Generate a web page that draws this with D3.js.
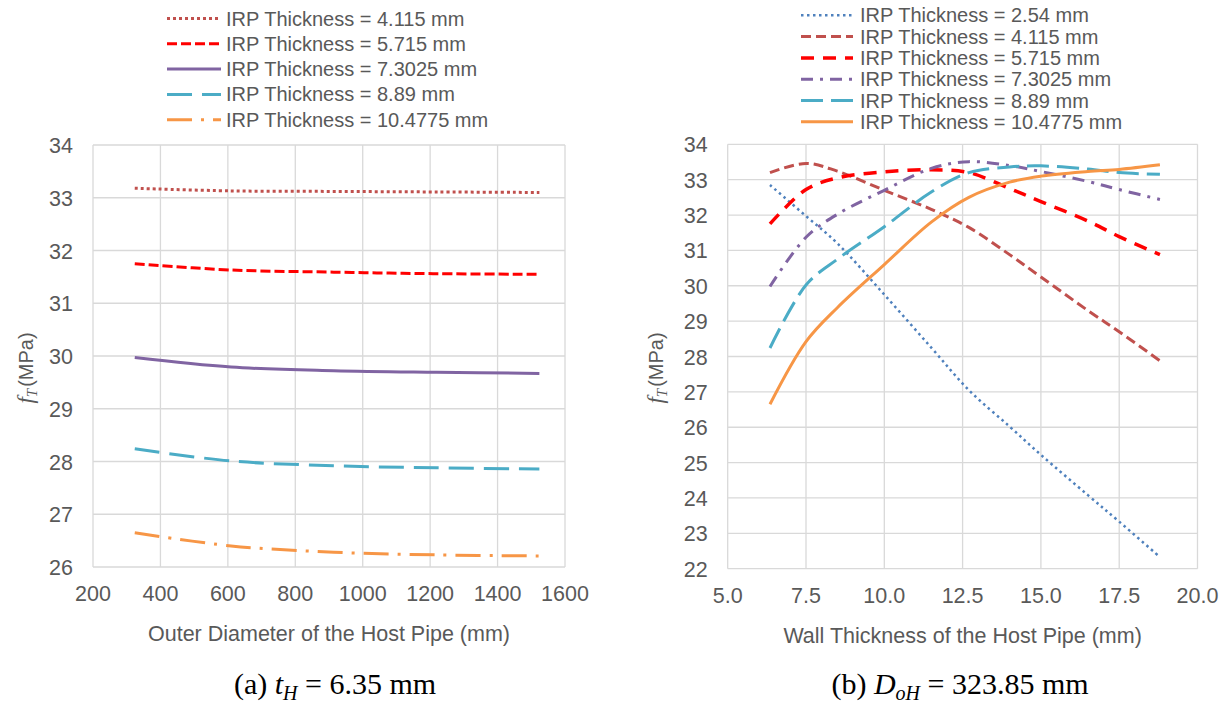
<!DOCTYPE html>
<html>
<head>
<meta charset="utf-8">
<script src="https://cdn.jsdelivr.net/npm/d3@7"></script>
<style>
  body { margin: 0; background: #fff; }
  text { font-family: "Liberation Sans", Arial, sans-serif; }
</style>
</head>
<body>
<svg id="chart" width="1228" height="703"></svg>
<script>
// panel (a): f_T against outer diameter of host pipe, t_H = 6.35 mm
const diaX = [323.85, 609.6, 914.4, 1219.2, 1524];
const diaIrp4115 = [33.18, 33.13, 33.12, 33.11, 33.10];
const diaIrp5715 = [31.75, 31.63, 31.59, 31.56, 31.55];
const diaIrp73025 = [29.97, 29.79, 29.72, 29.69, 29.67];
const diaIrp889 = [28.24, 28.01, 27.92, 27.88, 27.86];
const diaIrp104775 = [26.65, 26.40, 26.28, 26.23, 26.21];
const diaTicks = [200, 400, 600, 800, 1000, 1200, 1400, 1600];
const diaYTicks = [26, 27, 28, 29, 30, 31, 32, 33, 34];

// panel (b): f_T against wall thickness of host pipe, D_oH = 323.85 mm
const wallX = [6.35, 7.5, 8.5, 10, 11.5, 12.7, 14, 15, 16.5, 17.5, 18.8];
const wallIrp254 = [32.85, 31.97, 31.2, 29.75, 28.25, 27.05, 26.02, 25.22, 24.08, 23.33, 22.33];
const wallIrp4115 = [33.2, 33.46, 33.24, 32.7, 32.16, 31.65, 30.88, 30.25, 29.3, 28.7, 27.88];
const wallIrp5715 = [31.75, 32.72, 33.05, 33.22, 33.28, 33.2, 32.75, 32.38, 31.83, 31.39, 30.88];
const wallIrp73025 = [29.98, 31.37, 32.02, 32.7, 33.32, 33.51, 33.4, 33.23, 32.95, 32.72, 32.44];
const wallIrp889 = [28.24, 30.02, 30.75, 31.67, 32.65, 33.2, 33.36, 33.39, 33.3, 33.2, 33.15];
const wallIrp104775 = [26.65, 28.42, 29.38, 30.6, 31.8, 32.5, 32.93, 33.1, 33.23, 33.29, 33.42];
const wallTicks = [5, 7.5, 10, 12.5, 15, 17.5, 20];
const wallYTicks = [22, 23, 24, 25, 26, 27, 28, 29, 30, 31, 32, 33, 34];

const svg = d3.select("#chart");
svg.append("rect").attr("width", 1228).attr("height", 703).attr("fill", "#fff");

const grey = "#595959";
const serif = "'Liberation Serif', 'Times New Roman', serif";

function drawPanel(cfg) {
  const x = d3.scaleLinear().domain(cfg.xDomain).range(cfg.xRange);
  const y = d3.scaleLinear().domain(cfg.yDomain).range(cfg.yRange);
  const g = svg.append("g");

  // gridlines
  g.selectAll(".vgrid").data(cfg.xTicks).join("line")
    .attr("x1", d => x(d)).attr("x2", d => x(d))
    .attr("y1", cfg.yRange[0]).attr("y2", cfg.yRange[1])
    .attr("stroke", "#d9d9d9").attr("stroke-width", 1.3);
  g.selectAll(".hgrid").data(cfg.yTicks).join("line")
    .attr("x1", cfg.xRange[0]).attr("x2", cfg.xRange[1])
    .attr("y1", d => y(d)).attr("y2", d => y(d))
    .attr("stroke", "#d9d9d9").attr("stroke-width", 1.3);

  // tick labels
  g.selectAll(".xlab").data(cfg.xTicks).join("text")
    .attr("x", d => x(d)).attr("y", cfg.yRange[0] + 34)
    .attr("text-anchor", "middle").attr("font-size", 21.5).attr("fill", grey)
    .text(cfg.xFormat);
  g.selectAll(".ylab").data(cfg.yTicks).join("text")
    .attr("x", cfg.xRange[0] - 20).attr("y", d => y(d) + 8)
    .attr("text-anchor", "end").attr("font-size", 21.5).attr("fill", grey)
    .text(d => d);

  // axis titles
  g.append("text")
    .attr("x", (cfg.xRange[0] + cfg.xRange[1]) / 2).attr("y", cfg.yRange[0] + 74)
    .attr("text-anchor", "middle").attr("font-size", 21.5).attr("fill", grey)
    .text(cfg.xTitle);

  const yt = g.append("text")
    .attr("transform", `translate(${cfg.yTitleX},${cfg.yTitleY}) rotate(-90)`)
    .attr("text-anchor", "middle").attr("fill", grey);
  yt.append("tspan").attr("font-family", serif)
    .attr("font-style", "italic").attr("font-size", 23).text("f");
  yt.append("tspan").attr("font-family", serif)
    .attr("font-style", "italic").attr("font-size", 15).attr("dy", 4).text("T");
  yt.append("tspan").attr("font-size", 20).attr("dy", -4).attr("dx", 2).text("(MPa)");

  // series
  const line = d3.line()
    .x((d, i) => x(cfg.xs[i]))
    .y(d => y(d))
    .curve(d3.curveCatmullRom.alpha(0.5));

  cfg.series.forEach(s => {
    g.append("path")
      .datum(s.values)
      .attr("d", line)
      .attr("fill", "none")
      .attr("stroke", s.color)
      .attr("stroke-width", s.width)
      .attr("stroke-dasharray", s.dash);
  });

  // legend
  const lg = svg.append("g");
  cfg.series.forEach((s, i) => {
    const ly = cfg.legend.y0 + i * cfg.legend.step;
    lg.append("line")
      .attr("x1", cfg.legend.x1).attr("x2", cfg.legend.x2)
      .attr("y1", ly).attr("y2", ly)
      .attr("stroke", s.color).attr("stroke-width", s.width)
      .attr("stroke-dasharray", s.dash);
    lg.append("text")
      .attr("x", cfg.legend.tx).attr("y", ly + 7)
      .attr("font-size", 20).attr("fill", grey)
      .text(s.name);
  });

  // caption
  const cap = svg.append("text")
    .attr("x", cfg.capX).attr("y", 694)
    .attr("text-anchor", "middle").attr("font-size", 30)
    .attr("font-family", serif)
    .attr("fill", "#000");
  cfg.caption.forEach(p => {
    const t = cap.append("tspan").text(p.t).attr("font-family", serif);
    if (p.it) t.attr("font-style", "italic");
    if (p.sub) t.attr("font-size", 20).attr("dy", 6);
    if (p.up) t.attr("dy", -6);
  });
}

drawPanel({
  xDomain: [200, 1600], xRange: [93, 565],
  yDomain: [26, 34], yRange: [567, 145],
  xTicks: diaTicks, yTicks: diaYTicks,
  xFormat: d => d,
  xTitle: "Outer Diameter of the Host Pipe (mm)",
  yTitleX: 33, yTitleY: 368,
  xs: diaX,
  series: [
    { name: "IRP Thickness = 4.115 mm", values: diaIrp4115, color: "#C0504D", width: 3, dash: "3,3" },
    { name: "IRP Thickness = 5.715 mm", values: diaIrp5715, color: "#FF0000", width: 3, dash: "10,4" },
    { name: "IRP Thickness = 7.3025 mm", values: diaIrp73025, color: "#8064A2", width: 3, dash: null },
    { name: "IRP Thickness = 8.89 mm", values: diaIrp889, color: "#4BACC6", width: 3, dash: "25,10" },
    { name: "IRP Thickness = 10.4775 mm", values: diaIrp104775, color: "#F79646", width: 3, dash: "25,9,3,9" }
  ],
  legend: { x1: 167, x2: 221, tx: 226, y0: 18.5, step: 25.3 },
  capX: 335,
  caption: [
    { t: "(a) " }, { t: "t", it: true }, { t: "H", it: true, sub: true },
    { t: " = 6.35 mm", up: true }
  ]
});

drawPanel({
  xDomain: [5, 20], xRange: [727.7, 1197.5],
  yDomain: [22, 34], yRange: [568.7, 144.3],
  xTicks: wallTicks, yTicks: wallYTicks,
  xFormat: d3.format(".1f"),
  xTitle: "Wall Thickness of the Host Pipe (mm)",
  yTitleX: 663, yTitleY: 368,
  xs: wallX,
  series: [
    { name: "IRP Thickness = 2.54 mm", values: wallIrp254, color: "#4F81BD", width: 2.5, dash: "2.5,3.5" },
    { name: "IRP Thickness = 4.115 mm", values: wallIrp4115, color: "#C0504D", width: 3, dash: "10,5" },
    { name: "IRP Thickness = 5.715 mm", values: wallIrp5715, color: "#FF0000", width: 3.5, dash: "13,9" },
    { name: "IRP Thickness = 7.3025 mm", values: wallIrp73025, color: "#8064A2", width: 3, dash: "12,7,3,7" },
    { name: "IRP Thickness = 8.89 mm", values: wallIrp889, color: "#4BACC6", width: 3, dash: "22,8" },
    { name: "IRP Thickness = 10.4775 mm", values: wallIrp104775, color: "#F79646", width: 3, dash: null }
  ],
  legend: { x1: 801, x2: 853, tx: 860, y0: 15.3, step: 21.3 },
  capX: 960,
  caption: [
    { t: "(b) " }, { t: "D", it: true }, { t: "oH", it: true, sub: true },
    { t: " = 323.85 mm", up: true }
  ]
});
</script>
</body>
</html>
